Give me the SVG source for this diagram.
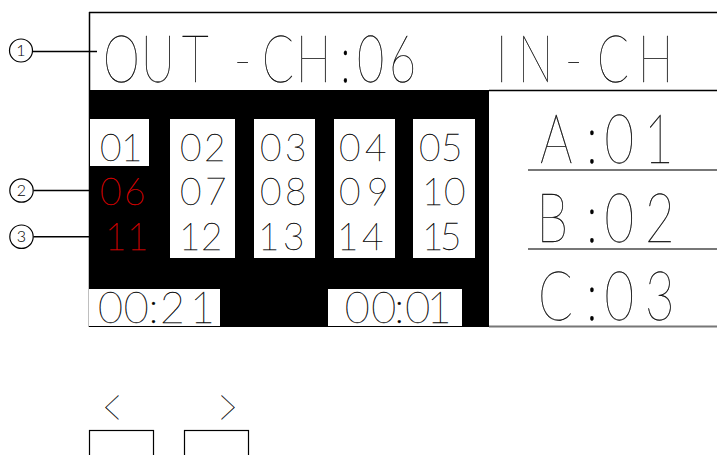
<svg xmlns="http://www.w3.org/2000/svg" width="717" height="455" viewBox="0 0 717 455">
<style>
.t{font-family:Lato,"Liberation Sans",sans-serif;font-weight:100;fill:#000;stroke:#000;stroke-width:0.35;opacity:0.99}
.red{fill:#e00000;stroke:#e00000}
.hdr{font-size:67px}
.big{font-size:68px}
.dg{font-size:37px}
.tm{font-size:43px}
.cn{font-family:Lato,"Liberation Sans",sans-serif;font-weight:300;font-size:16px;fill:#000;opacity:0.99}
.ln{stroke:#000;stroke-width:1.5;fill:none}
.gl{stroke:#777;stroke-width:2;fill:none}
.cell{fill:#fff}
.cc{fill:#fff;stroke:#000;stroke-width:1.2}
.btn{fill:none;stroke:#000;stroke-width:1.2}
.chev{font-size:64px}
</style>
<rect width="717" height="455" fill="#fff"/>

<g id="frame">
  <line class="ln" x1="89" y1="12.5" x2="717" y2="12.5"/>
  <line class="ln" x1="89.5" y1="12" x2="89.5" y2="327"/>
  <rect x="89" y="90" width="400" height="237" fill="#000"/>
  <line class="ln" x1="489" y1="90.5" x2="717" y2="90.5"/>
  <line class="gl" x1="489" y1="326.5" x2="717" y2="326.5"/>
</g>

<g id="header">
  <text class="t hdr" transform="translate(0,82) scale(0.7,1)" x="147.1 201.4 260 334.3 374.3 422.9 485.7 510 555.7 600 708.6 740 807.1 852.9 911.4" y="0">OUT-CH:06 IN-CH</text>
</g>

<g id="grid">
  <g id="col1">
    <rect class="cell" x="90" y="119" width="59" height="47"/>
    <text class="t dg" x="100 121" y="160.5">01</text>
    <text class="t dg red" x="100 124" y="205">06</text>
    <text class="t dg red" x="105 127" y="249.5">11</text>
  </g>
  <g id="col2">
    <rect class="cell" x="170" y="119" width="65" height="139"/>
    <text class="t dg" x="180 204" y="160.5">02</text>
    <text class="t dg" x="180 205" y="205">07</text>
    <text class="t dg" x="179 201" y="249.5">12</text>
  </g>
  <g id="col3">
    <rect class="cell" x="254" y="119" width="61" height="139"/>
    <text class="t dg" x="260 285" y="160.5">03</text>
    <text class="t dg" x="260 285" y="205">08</text>
    <text class="t dg" x="258 283" y="249.5">13</text>
  </g>
  <g id="col4">
    <rect class="cell" x="334" y="119" width="61" height="139"/>
    <text class="t dg" x="339 365" y="160.5">04</text>
    <text class="t dg" x="339 367" y="205">09</text>
    <text class="t dg" x="337 362" y="249.5">14</text>
  </g>
  <g id="col5">
    <rect class="cell" x="413" y="119" width="62" height="139"/>
    <text class="t dg" x="419 441" y="160.5">05</text>
    <text class="t dg" x="422 444" y="205">10</text>
    <text class="t dg" x="422 440" y="249.5">15</text>
  </g>
</g>

<g id="timer-left">
  <rect class="cell" x="89" y="289" width="131" height="37"/>
  <text class="t tm" x="98 123.7 148.5 160 190" y="322.7">00:21</text>
</g>
<g id="timer-right">
  <rect class="cell" x="328" y="289" width="134" height="37"/>
  <text class="t tm" x="344.7 371.3 394.2 405.3 426.7" y="322.7">00:01</text>
</g>

<g id="panel-a">
  <text class="t big" transform="translate(0,163) scale(0.75,1)" x="720 781.3 806 858.7" y="0">A:01</text>
  <line class="gl" x1="528" y1="170" x2="717" y2="170"/>
</g>
<g id="panel-b">
  <text class="t big" transform="translate(0,241.7) scale(0.75,1)" x="715.3 781.3 806 860" y="0">B:02</text>
  <line class="gl" x1="528" y1="249" x2="717" y2="249"/>
</g>
<g id="panel-c">
  <text class="t big" transform="translate(0,320) scale(0.75,1)" x="717.3 781.3 806 860" y="0">C:03</text>
</g>

<g id="btn-left">
  <text class="t chev" transform="translate(0,429) scale(0.55,1)" x="186" y="0">&lt;</text>
  <rect class="btn" x="89.5" y="430.5" width="64" height="30"/>
</g>
<g id="btn-right">
  <text class="t chev" transform="translate(0,429) scale(0.55,1)" x="395" y="0">&gt;</text>
  <rect class="btn" x="184.5" y="430.5" width="64" height="30"/>
</g>

<g id="callout-1"><circle class="cc" cx="21" cy="50.5" r="11.5"/><text class="cn" x="21" y="56" text-anchor="middle">1</text></g>
<g id="callout-2"><circle class="cc" cx="21.5" cy="190.5" r="11.7"/><text class="cn" x="21.5" y="196" text-anchor="middle">2</text></g>
<g id="callout-3"><circle class="cc" cx="21.5" cy="236.7" r="11.7"/><text class="cn" x="21.5" y="242.2" text-anchor="middle">3</text></g>

<g id="connectors">
  <line class="ln" x1="32.5" y1="51.5" x2="97" y2="51.5"/>
  <line class="ln" x1="33.5" y1="190.5" x2="89" y2="190.5"/>
  <line class="ln" x1="33.5" y1="236.7" x2="89" y2="236.7"/>
</g>
</svg>
